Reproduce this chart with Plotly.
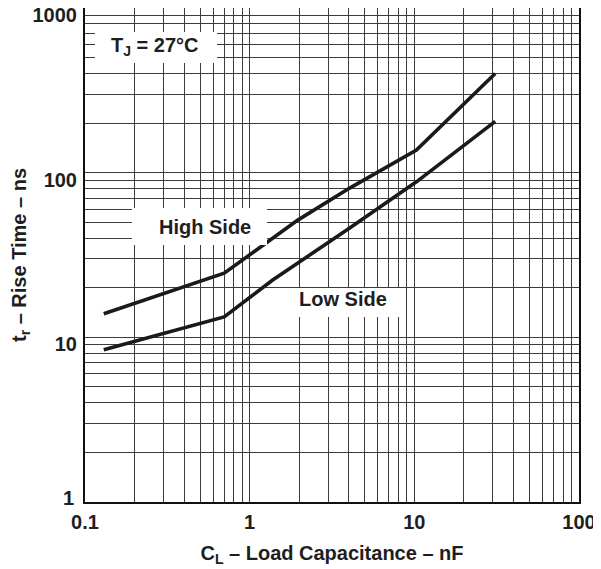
import plotly.graph_objects as go

# Data
cap_high_nf = [0.13, 0.7, 1.96, 4.05, 10.3, 31]
rise_high_ns = [13.9, 24.5, 51.5, 80.6, 137, 400]
cap_low_nf = [0.13, 0.7, 1.38, 4.05, 10.3, 31]
rise_low_ns = [8.4, 13.3, 22.3, 46.1, 88, 205]

x_ticks = [0.1, 1, 10, 100]
x_ticktext = ["0.1", "1", "10", "100"]
y_ticks = [1, 10, 100, 1000]
y_ticktext = ["1", "10", "100", "1000"]

minor_x = [k * 10 ** e for e in range(-1, 2) for k in range(2, 10)]
minor_y = [k * 10 ** e for e in range(0, 3) for k in range(2, 10)]

FONT = "Liberation Sans, Arial, Helvetica, sans-serif"
TXT = "#1e1e1e"
GRID = "#3c3c3c"

fig = go.Figure()
for xs, ys in [(cap_high_nf, rise_high_ns), (cap_low_nf, rise_low_ns)]:
    fig.add_trace(go.Scatter(x=xs, y=ys, mode="lines",
                             line=dict(color="#1a1a1a", width=3.6),
                             showlegend=False, hoverinfo="skip"))

# page has an 8px body margin; size the figure so it fits the 601x569 window
OFF = 8
W, H = 601 - OFF, 569 - OFF
L, R, T, B = 77, 22, 0, 67
pw, ph = W - L - R, H - T - B

def px(xp):
    return (xp - OFF - L) / pw

def py(yp):
    return (H - B - (yp - OFF)) / ph

tick_font = dict(family=FONT, size=20, color=TXT, weight="bold")
axis_common = dict(
    type="log", showline=True, mirror=True, linecolor="#111", linewidth=2,
    showgrid=True, gridcolor=GRID, gridwidth=1, ticks="", zeroline=False,
    ticklabeloverflow="allow", tickfont=tick_font,
)

fig.update_xaxes(
    range=[-1.0001, 2.0001], tickvals=x_ticks, ticktext=x_ticktext,
    minor=dict(tickvals=minor_x, showgrid=True, gridcolor=GRID, gridwidth=1, ticks=""),
    title=dict(text="C<sub>L</sub> – Load Capacitance – nF",
               font=dict(family=FONT, size=20, color=TXT, weight="bold"), standoff=14),
    ticklabelstandoff=1,
    **axis_common,
)
# the lowest y label sits differently in the reference; draw it as an annotation
fig.update_yaxes(
    range=[-0.0001, 3.0001], tickvals=y_ticks,
    ticktext=[""] + y_ticktext[1:],
    minor=dict(tickvals=minor_y, showgrid=True, gridcolor=GRID, gridwidth=1, ticks=""),
    title=dict(text="t<sub>r</sub> – Rise Time – ns",
               font=dict(family=FONT, size=20, color=TXT, weight="bold"), standoff=8),
    ticklabelstandoff=2, ticklabelshift=7,
    **axis_common,
)
fig.add_annotation(text=y_ticktext[0], xref="paper", yref="y", x=0, y=0,
                   xanchor="right", yanchor="middle", xshift=-9, yshift=4,
                   showarrow=False, font=tick_font)

# white label boxes (page pixel extents) that hide the grid
boxes = [(95, 217, 32, 63), (132, 267, 208, 245), (283, 405, 288, 317)]
for x0, x1, y0, y1 in boxes:
    fig.add_shape(type="rect", xref="paper", yref="paper",
                  x0=px(x0), x1=px(x1), y0=py(y1), y1=py(y0),
                  fillcolor="white", line=dict(width=0), layer="above")

ann_font = dict(family=FONT, size=20, color=TXT, weight="bold")
labels = [
    ("T<sub>J</sub> = 27°C", 155, 46.5),
    ("High Side", 205, 227),
    ("Low Side", 342.5, 298.5),
]
for text, cx, cy in labels:
    fig.add_annotation(text=text, xref="paper", yref="paper", x=px(cx), y=py(cy),
                       xanchor="center", yanchor="middle", showarrow=False,
                       font=ann_font)

fig.update_layout(
    width=W, height=H, margin=dict(l=L, r=R, t=T, b=B, autoexpand=False),
    paper_bgcolor="white", plot_bgcolor="white",
    font=dict(family=FONT, color=TXT),
)
fig.write_html("out.html")
